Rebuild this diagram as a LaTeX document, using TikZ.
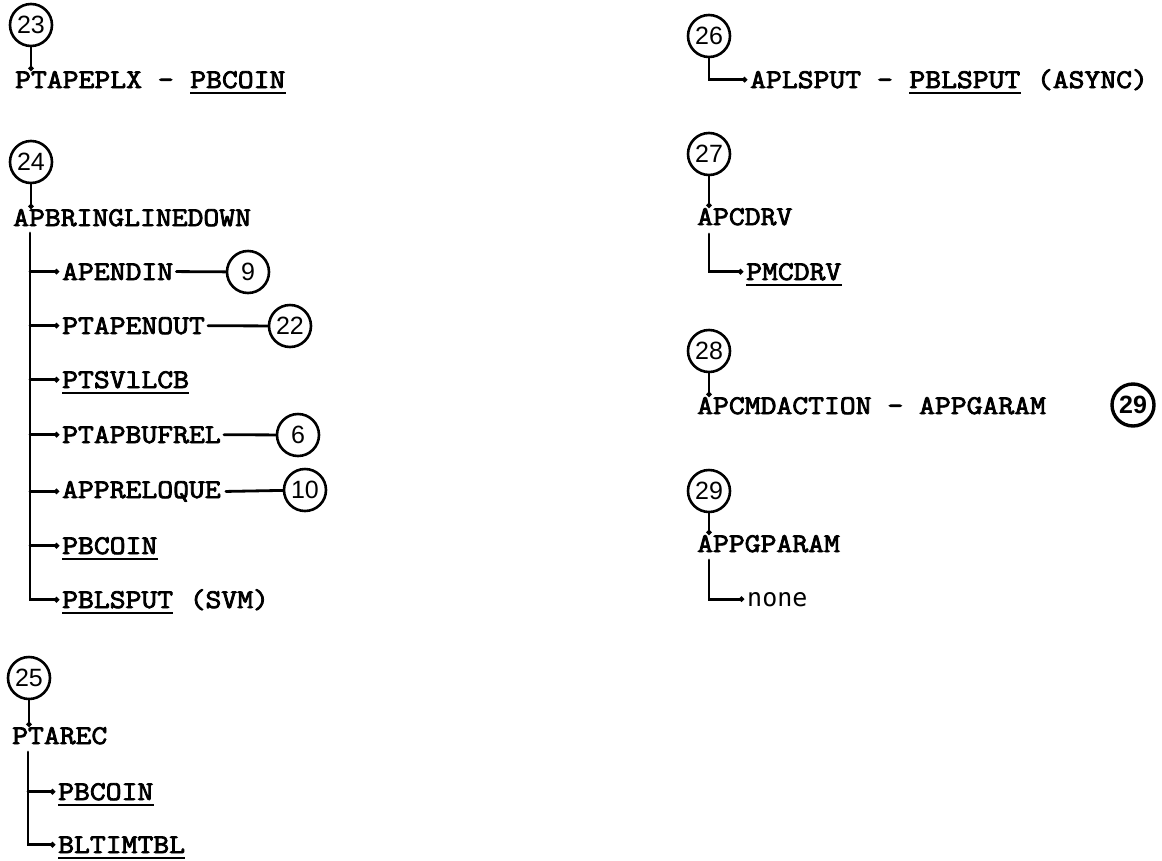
\documentclass[tikz,border=0pt]{standalone}
\usepackage{fontspec}
\newfontfamily\twfont{Latin Modern Mono}[FakeStretch=1.14, FakeBold=3]
\newfontfamily\numfont{Liberation Sans}
\newfontfamily\numboldfont{Liberation Sans Bold}
\newfontfamily\gothfont{DejaVu Sans Mono}
\usetikzlibrary{arrows.meta}
\def\cw{16.16pt}
\begin{document}
\begin{tikzpicture}[x=1pt,y=-1pt,
  txt/.style={anchor=base west, inner sep=0pt, font=\twfont\fontsize{27pt}{30pt}\selectfont},
  goth/.style={anchor=base west, inner sep=0pt, font=\gothfont\fontsize{25pt}{28pt}\selectfont},
  num/.style={circle, draw, line width=2.6pt, minimum size=42pt, inner sep=0pt, font=\numfont\fontsize{25pt}{28pt}\selectfont},
  numb/.style={num, line width=3.4pt, font=\numboldfont\fontsize{25pt}{28pt}\selectfont},
  ln/.style={line width=2.8pt, line cap=round},
  tip/.style={ln, -{Circle[length=5pt]}},
  ul/.style={line width=2pt},
]
\path[use as bounding box] (0,0) rectangle (1162,860);

% ---- 23
\node[num] (c23) at (31,25) {23};
\node[txt] (t23) at (15,88) {PTAPEPLX -};
\node[txt] (u23) at ([xshift=\cw]t23.base east) {PBCOIN};
\draw[tip] (c23.south) -- (c23.south |- t23.north);
\draw[ul] ([yshift=-5pt]u23.base west) -- ([yshift=-5pt]u23.base east);

% ---- 24
\node[num] (c24) at (31,162) {24};
\node[txt] (t24) at (13,226) {APBRINGLINEDOWN};
\draw[tip] (c24.south) -- (c24.south |- t24.north);
\coordinate (k24) at (30,233);
\node[txt] (a1) at (62,280) {APENDIN};
\node[num] (c9) at (248,272) {9};
\node[txt] (a2) at (62,334) {PTAPENOUT};
\node[num] (c22) at (290,326) {22};
\node[txt] (a3) at (62,388) {PTSVlLCB};
\node[txt] (a4) at (62,443) {PTAPBUFREL};
\node[num] (c6) at (298,435) {6};
\node[txt] (a5) at (62,498) {APPRELOQUE};
\node[num] (c10) at (305,490) {10};
\node[txt] (a6) at (62,554) {PBCOIN};
\node[txt] (a7) at (62,608) {PBLSPUT};
\node[txt] (a7b) at ([xshift=\cw]a7.base east) {(SVM)};
\draw[tip] (k24) |- ([xshift=-3pt]a7.west);
\foreach \n in {a1,a2,a3,a4,a5,a6}{
  \draw[tip] (k24 |- \n.west) -- ([xshift=-3pt]\n.west);
}
\draw[ln] ([xshift=3pt]a1.east) -- (c9);
\draw[ln] ([xshift=3pt]a2.east) -- (c22);
\draw[ln] ([xshift=3pt]a4.east) -- (c6);
\draw[ln] ([xshift=5pt]a5.east) -- (c10);
\foreach \n in {a3,a6,a7}{
  \draw[ul] ([yshift=-5pt]\n.base west) -- ([yshift=-5pt]\n.base east);
}

% ---- 25
\node[num] (c25) at (29,678) {25};
\node[txt] (t25) at (12,744) {PTAREC};
\draw[tip] (c25.south) -- (c25.south |- t25.north);
\coordinate (k25) at (28,752);
\node[txt] (b1) at (58,800) {PBCOIN};
\node[txt] (b2) at (58,853) {BLTIMTBL};
\draw[tip] (k25 |- b1.west) -- ([xshift=-3pt]b1.west);
\draw[tip] (k25) |- ([xshift=-3pt]b2.west);
\foreach \n in {b1,b2}{
  \draw[ul] ([yshift=-5pt]\n.base west) -- ([yshift=-5pt]\n.base east);
}

% ---- 26
\node[num] (c26) at (709,36) {26};
\node[txt] (t26) at (750,88) {APLSPUT -};
\node[txt] (u26) at ([xshift=\cw]t26.base east) {PBLSPUT};
\node[txt] (v26) at ([xshift=\cw]u26.base east) {(ASYNC)};
\draw[tip] (c26.south) |- ([xshift=-3pt]t26.west);
\draw[ul] ([yshift=-5pt]u26.base west) -- ([yshift=-5pt]u26.base east);

% ---- 27
\node[num] (c27) at (709,154) {27};
\node[txt] (t27) at (697,225) {APCDRV};
\draw[tip] (c27.south) -- (c27.south |- t27.north);
\coordinate (k27) at (709,234);
\node[txt] (u27) at (746,280) {PMCDRV};
\draw[tip] (k27) |- ([xshift=-3pt]u27.west);
\draw[ul] ([yshift=-5pt]u27.base west) -- ([yshift=-5pt]u27.base east);

% ---- 28
\node[num] (c28) at (709,351) {28};
\node[txt] (t28) at (697,414) {APCMDACTION - APPGARAM};
\draw[tip] (c28.south) -- (c28.south |- t28.north);
\node[numb] (c29b) at (1133,405) {29};

% ---- 29
\node[num] (c29) at (709,491) {29};
\node[txt] (t29) at (697,552) {APPGPARAM};
\draw[tip] (c29.south) -- (c29.south |- t29.north);
\coordinate (k29) at (709,560);
\node[goth] (n29) at (747,606) {none};
\draw[tip] (k29) |- ([xshift=-3pt]n29.west);
\end{tikzpicture}
\end{document}
